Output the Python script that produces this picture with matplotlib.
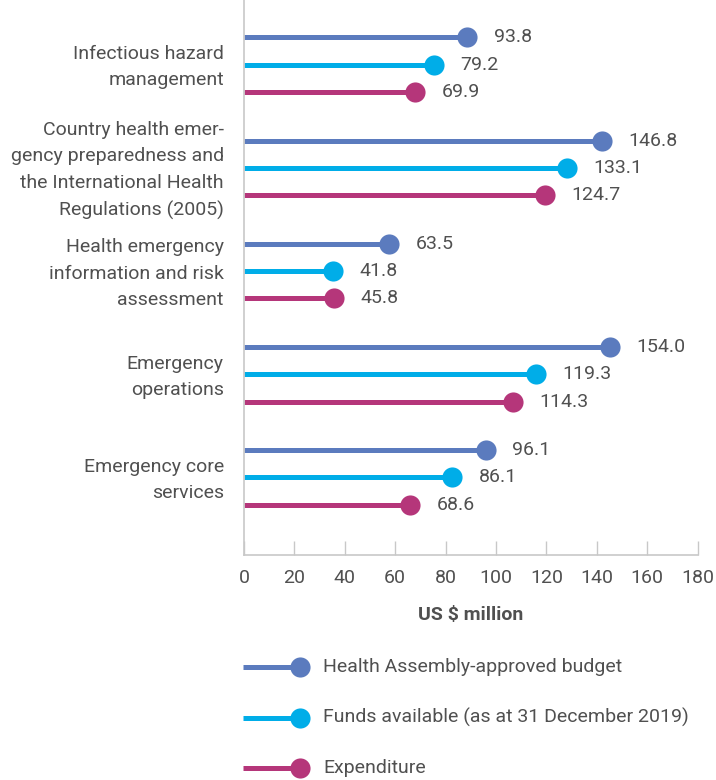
import matplotlib
matplotlib.use("Agg")
import matplotlib.pyplot as plt

# ---------------- data ----------------
categories = [
    "Infectious hazard\nmanagement",
    "Country health emer-\ngency preparedness and\nthe International Health\nRegulations (2005)",
    "Health emergency\ninformation and risk\nassessment",
    "Emergency\noperations",
    "Emergency core\nservices",
]
series_names = [
    "Health Assembly-approved budget",
    "Funds available (as at 31 December 2019)",
    "Expenditure",
]
# dot positions as drawn in the picture (US$ million)
budget = [88.6, 142.2, 57.7, 145.2, 96.0]
funds = [75.4, 128.3, 35.4, 115.9, 82.7]
expenditure = [67.9, 119.4, 35.7, 106.6, 65.9]
# printed value labels
budget_labels = ["93.8", "146.8", "63.5", "154.0", "96.1"]
funds_labels = ["79.2", "133.1", "41.8", "119.3", "86.1"]
expenditure_labels = ["69.9", "124.7", "45.8", "114.3", "68.6"]
x_ticks = [0, 20, 40, 60, 80, 100, 120, 140, 160, 180]
x_label = "US $ million"

# ---------------- style ----------------
colors = ["#5B7BBE", "#00ADE8", "#B5367A"]
text_color = "#505050"
axis_color = "#c8c8c8"
plt.rcParams["font.family"] = ["Roboto", "DejaVu Sans"]
FS = 14

W, H = 716, 780
fig = plt.figure(figsize=(W / 100, H / 100), dpi=100)

x0_px, x1_px, ybot_px = 244, 697.7, 555
ax = fig.add_axes([x0_px / W, 1 - ybot_px / H, (x1_px - x0_px) / W, ybot_px / H])

group_gap = 1.0
sub_gap = 0.265
first_px, group_px = 37.3, 103.2
ax.set_ylim((ybot_px - first_px) / group_px, -first_px / group_px)
ax.set_xlim(0, 180)

all_vals = [budget, funds, expenditure]
all_labels = [budget_labels, funds_labels, expenditure_labels]
lw = 3.6
ms = 14.5
for j, (vals, labs) in enumerate(zip(all_vals, all_labels)):
    for i, (v, lab) in enumerate(zip(vals, labs)):
        y = i * group_gap + j * sub_gap
        ax.plot([0, v], [y, y], color=colors[j], lw=lw, solid_capstyle="butt", zorder=2)
        ax.plot([v], [y], "o", color=colors[j], ms=ms, mec="none", zorder=3)
        ax.annotate(lab, (v, y), xytext=(19, 0), textcoords="offset points",
                    va="center", ha="left", fontsize=FS, color=text_color)

# category labels
ax.set_yticks([])
for i, cat in enumerate(categories):
    ax.annotate(cat, (0, i * group_gap + sub_gap), xycoords=("axes fraction", "data"),
                xytext=(-14.5, -1.8), textcoords="offset points",
                ha="right", va="center", ma="right", fontsize=FS,
                color=text_color, linespacing=1.6)

ax.set_xticks(x_ticks)
ax.set_xticklabels([str(t) for t in x_ticks], fontsize=FS, color=text_color)
ax.tick_params(axis="x", direction="in", length=10, width=1, color=axis_color, pad=10)
ax.set_xlabel(x_label, fontsize=FS, fontweight="bold", color=text_color, labelpad=14)

for s in ["top", "right"]:
    ax.spines[s].set_visible(False)
for s in ["left", "bottom"]:
    ax.spines[s].set_color(axis_color)
    ax.spines[s].set_linewidth(1.2)

# ---------------- legend ----------------
lax = fig.add_axes([0, 0, 1, 1])
lax.set_xlim(0, W)
lax.set_ylim(H, 0)
lax.axis("off")
leg_y = [666.7, 717.7, 768.3]
for j, name in enumerate(series_names):
    lax.plot([243, 300], [leg_y[j], leg_y[j]], color=colors[j], lw=lw, solid_capstyle="butt")
    lax.plot([300], [leg_y[j]], "o", color=colors[j], ms=ms, mec="none")
    lax.text(323, leg_y[j], name, fontsize=FS, color=text_color, va="center", ha="left")

fig.savefig("out.png", dpi=100)
